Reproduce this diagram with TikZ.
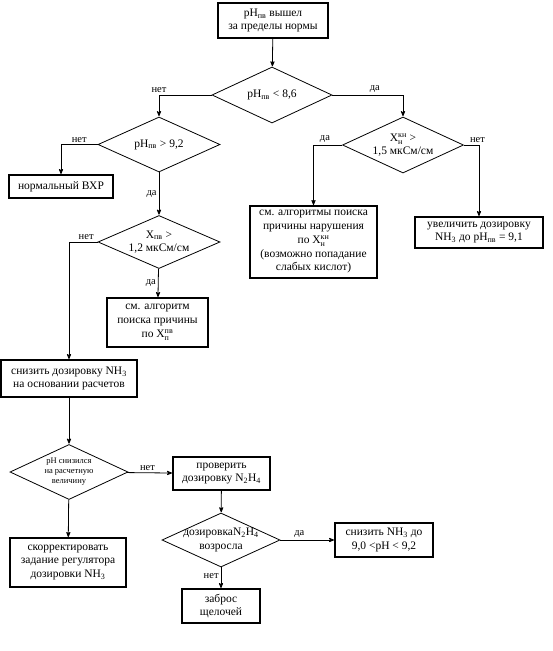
\documentclass[tikz,border=0pt]{standalone}
\usepackage{amsmath}
\usepackage{fontspec}
\setmainfont{Liberation Serif}
\usetikzlibrary{arrows,shapes.geometric}

\begin{document}
\begin{tikzpicture}[x=1pt,y=-1pt,>=stealth',shorten >=0.5pt,line width=0.8pt,
  box/.style={draw,line width=1.1pt,align=center,inner sep=1pt,font=\fontsize{11.5}{13.5}\selectfont},
  cond/.style={draw,diamond,aspect=2,inner sep=-6pt,align=center,font=\fontsize{11.5}{13.5}\selectfont},
  lbl/.style={font=\fontsize{10.5}{12}\selectfont,inner sep=2pt}]

\useasboundingbox (0,0) rectangle (552,651);

\node[box,minimum width=110,minimum height=35] (start) at (273,20.5) {pH\textsubscript{пв} вышел\\за пределы нормы};
\node[cond,minimum width=120,minimum height=56] (lowph) at (272,95) {pH\textsubscript{пв} < 8,6};
\node[cond,minimum width=122,minimum height=55] (highph) at (159,144.5) {pH\textsubscript{пв} > 9,2};
\node[box,minimum width=104,minimum height=23] (norm) at (61,186.5) {нормальный ВХР};
\node[cond,minimum width=122,minimum height=53] (cond1) at (159,242) {X$_{\text{пв}}$ >\\1,2 мкСм/см};
\node[box,minimum width=101,minimum height=49] (alg1) at (157.5,322.5) {см. алгоритм\\поиска причины\\[1pt]по X$_{\text{п}}^{\text{пв}}$};
\node[cond,minimum width=121,minimum height=56] (cond2) at (403,145) {X$_{\text{н}}^{\text{кн}}$ >\\1,5 мкСм/см};
\node[box,minimum width=127,minimum height=72] (alg2) at (313.5,242) {см. алгоритмы поиска\\причины нарушения\\[1pt]по X$_{\text{н}}^{\text{кн}}$\\(возможно попадание\\слабых кислот)};
\node[box,minimum width=128,minimum height=31] (incr) at (479,232.5) {увеличить дозировку\\NH\textsubscript{3} до pH\textsubscript{пв} = 9,1};
\node[box,minimum width=136,minimum height=37] (reduce) at (69,378.5) {снизить дозировку NH\textsubscript{3}\\на основании расчетов};
\node[cond,minimum width=118,minimum height=55,inner sep=0pt,font=\fontsize{8.5}{10}\selectfont] (drop) at (69,472) {pH снизился\\на расчетную\\величину};
\node[box,minimum width=97,minimum height=33] (check) at (221.5,473.5) {проверить\\дозировку N\textsubscript{2}H\textsubscript{4}};
\node[cond,minimum width=118,minimum height=54] (rise) at (221,540) {дозировкаN\textsubscript{2}H\textsubscript{4}\\возросла};
\node[box,minimum width=98,minimum height=34] (reduce2) at (384,540) {снизить NH\textsubscript{3} до\\9,0 <pH < 9,2};
\node[box,minimum width=78,minimum height=34] (alkali) at (221,606) {заброс\\щелочей};
\node[box,minimum width=116,minimum height=49] (corr) at (68,562.5) {скорректировать\\задание регулятора\\дозировки NH\textsubscript{3}};

\path[->] (start) edge (lowph)
  (highph) edge node[lbl,left,pos=0.5] {да} (cond1)
  (cond1) edge node[lbl,left,pos=0.5] {да} (alg1)
  (reduce) edge (drop)
  (drop) edge node[lbl,above,pos=0.45] {нет} (check)
  (drop) edge (corr)
  (check) edge (rise)
  (rise) edge node[lbl,above,pos=0.35] {да} (reduce2)
  (rise) edge node[lbl,left,pos=0.4] {нет} (alkali);

\draw[->] (lowph.west) -| node[lbl,above,pos=0.5] {нет} (highph.north);
\draw[->] (lowph.east) -| node[lbl,above,pos=0.3] {да} (cond2.north);
\draw[->] (highph.west) -| node[lbl,above,pos=0.25] {нет} (norm.north);
\draw[->] (cond1.west) -| node[lbl,above,pos=0.2] {нет} (reduce.north);
\draw[->] (cond2.west) -| node[lbl,above,pos=0.3] {да} (alg2.north);
\draw[->] (cond2.east) -| node[lbl,above,pos=0.45] {нет} (incr.north);

\end{tikzpicture}
\end{document}
